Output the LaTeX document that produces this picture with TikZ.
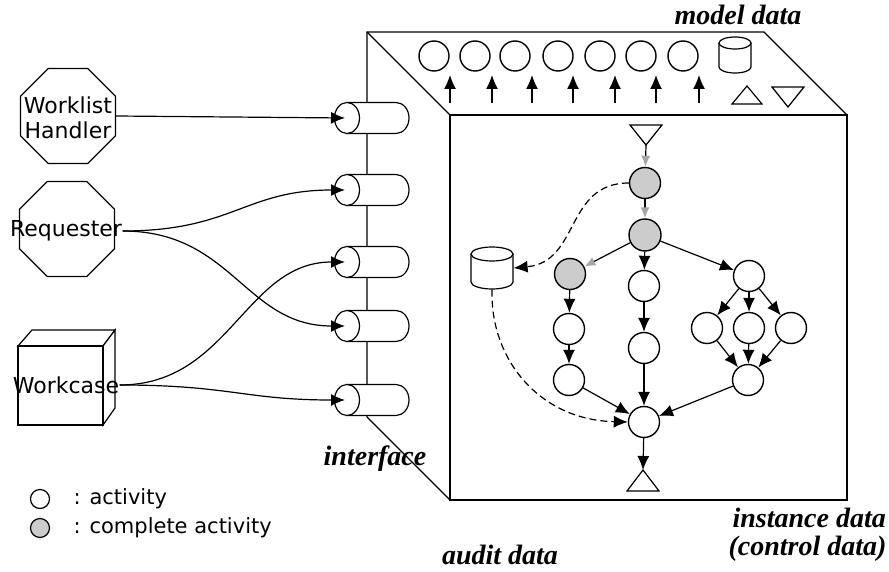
\documentclass[tikz,border=0pt]{standalone}
\usepackage{fontspec}
\setmainfont{Liberation Serif}
\newfontfamily\lblfont{DejaVu Sans}
\usetikzlibrary{arrows.meta,shapes.geometric}
\newcommand\hcyl[2]{%
  \draw[fill=white] (347,#2-15.5) -- (396,#2-15.5) arc[start angle=90,end angle=-90,x radius=13pt,y radius=15.5pt] -- (347,#2+15.5) -- cycle;
  \draw[fill=white] (347,#2) ellipse [x radius=12.5pt, y radius=15.5pt];
  \coordinate (#1) at (345,#2);}
\begin{document}
\begin{tikzpicture}[x=1pt,y=-1pt, line width=1.2pt,
  octa/.style={draw, regular polygon, regular polygon sides=8, minimum size=103pt, inner sep=0pt},
  actortext/.style={font=\lblfont\fontsize{22}{25}\selectfont, inner sep=0pt, align=center},
  lbl/.style={font=\bfseries\itshape\fontsize{28}{30}\selectfont, inner sep=0pt},
  legtext/.style={font=\lblfont\fontsize{21}{24}\selectfont, inner sep=0pt, anchor=west},
  act/.style={draw, circle, minimum size=31pt, inner sep=0pt, fill=white, line width=1.4pt},
  done/.style={act, fill=gray!40},
  arr/.style={-{Latex[length=14pt,width=12pt]}},
  garr/.style={-{Latex[length=11pt,width=9pt,color=gray!70]}},
  dsh/.style={dash pattern=on 7pt off 4pt}
]
\useasboundingbox (0,0) rectangle (889,572);

% big box
\draw (367,417) -- (367,32) -- (764,32) -- (847,115);
\draw (367,32) -- (450,115);
\draw (367,417) -- (450,500);
\draw (450,115) rectangle (847,500);

% interface cylinders
\hcyl{c1}{118}
\hcyl{c2}{190}
\hcyl{c3}{262}
\hcyl{c4}{326}
\hcyl{c5}{400}

% actors
\node[octa] (wlo) at (68,116) {};
\node[actortext] (wl) at (68,118) {Worklist\\Handler};
\node[octa] (rqo) at (67,229) {};
\node[actortext] (rq) at (66,231) {Requester};
\draw[fill=white] (18,346) -- (32,330) -- (115,330) -- (103,346) -- cycle;
\draw[fill=white] (103,346) -- (115,330) -- (115,408) -- (103,425) -- cycle;
\draw[fill=white] (18,346) rectangle (103,425);
\node[actortext] (wc) at (66,385) {Workcase};

\draw[arr] (wlo.east) -- (c1);
\draw[arr] (rq.east) .. controls +(110,0) and +(-100,0) .. (c2);
\draw[arr] (rq.east) .. controls +(110,0) and +(-100,0) .. (c4);
\draw[arr] (wc.east) .. controls +(110,0) and +(-100,0) .. (c3);
\draw[arr] (wc.east) .. controls +(110,0) and +(-100,0) .. (c5);

% model data on top face
\foreach \x [count=\i] in {434,475,515,558,600,641,683} {
  \node[act, minimum size=30pt] (m\i) at (\x,56) {};
}
\foreach \x [count=\i] in {450,492,532,573,615,656,699} {
  \coordinate (ma\i) at (\x,103);
  \coordinate (mb\i) at (\x,75);
  \draw[arr] (ma\i) -- (mb\i);
}
\draw[fill=white] (719,43) -- (719,67) arc[start angle=180,end angle=360,x radius=16pt,y radius=6pt] -- (751,43);
\draw[fill=white] (735,43) ellipse [x radius=16pt, y radius=6pt];
\draw (732,104) -- (747,86) -- (762,104) -- cycle;
\draw (772,87) -- (804,87) -- (788,107) -- cycle;

% instance graph
\draw (630,125) -- (662,125) -- (646,145) -- cycle;
\coordinate (st) at (646,145);
\draw (627,491) -- (643,470) -- (659,491) -- cycle;
\coordinate (en) at (643,470);

\node[done] (n1) at (645,183) {};
\node[done, minimum size=32pt] (n2) at (645,235) {};
\node[done] (n3) at (570,274) {};
\node[act] (n4) at (644,286) {};
\node[act] (n5) at (749,276) {};
\node[act] (n6) at (569,329) {};
\node[act] (n7) at (569,380) {};
\node[act] (n8) at (644,348) {};
\node[act] (r1) at (707,328) {};
\node[act] (r2) at (749,328) {};
\node[act] (r3) at (791,328) {};
\node[act] (jn) at (748,380) {};
\node[act] (fin) at (644,422) {};

\node[minimum width=42pt, minimum height=42pt, inner sep=0pt] (db) at (492,268) {};
\draw[fill=white] (471,254) -- (471,282) arc[start angle=180,end angle=360,x radius=21pt,y radius=7pt] -- (513,254);
\draw[fill=white] (492,254) ellipse [x radius=21pt, y radius=7pt];

\draw[garr] (st) -- (n1);
\draw[garr] (n1) -- (n2);
\draw[garr] (n2) -- (n3);
\draw[arr] (n2) -- (n4);
\draw[arr] (n2) -- (n5);
\draw[arr] (n3) -- (n6);
\draw[arr] (n6) -- (n7);
\draw[arr] (n4) -- (n8);
\draw[arr] (n8) -- (fin);
\draw[arr] (n5) -- (r1);
\draw[arr] (n5) -- (r2);
\draw[arr] (n5) -- (r3);
\draw[arr] (r1) -- (jn);
\draw[arr] (r2) -- (jn);
\draw[arr] (r3) -- (jn);
\draw[arr] (n7) -- (fin);
\draw[arr] (jn) -- (fin);
\draw[arr] (fin) -- (en);
\draw[arr, dsh] (n1.west) .. controls (565,183) and (580,262) .. (db.east);
\draw[arr, dsh] (db.south) .. controls (490,360) and (540,420) .. (fin.west);

% labels
\node[lbl] (md) at (738,15) {model data};
\node[lbl] (ifc) at (375,459) {interface};
\node[lbl] (aud) at (500,555) {audit data};
\node[lbl, anchor=west] (ins) at (732,518) {instance data};
\node[lbl, anchor=west] (ctl) at (728,549) {(control data)};

% legend
\node[act, minimum size=19pt, line width=1.2pt] (lg1) at (40,499) {};
\node[done, minimum size=19pt, line width=1.2pt] (lg2) at (40,528) {};
\node[legtext] (lt1) at (73,499) {: activity};
\node[legtext] (lt2) at (73,528) {: complete activity};
\end{tikzpicture}
\end{document}
